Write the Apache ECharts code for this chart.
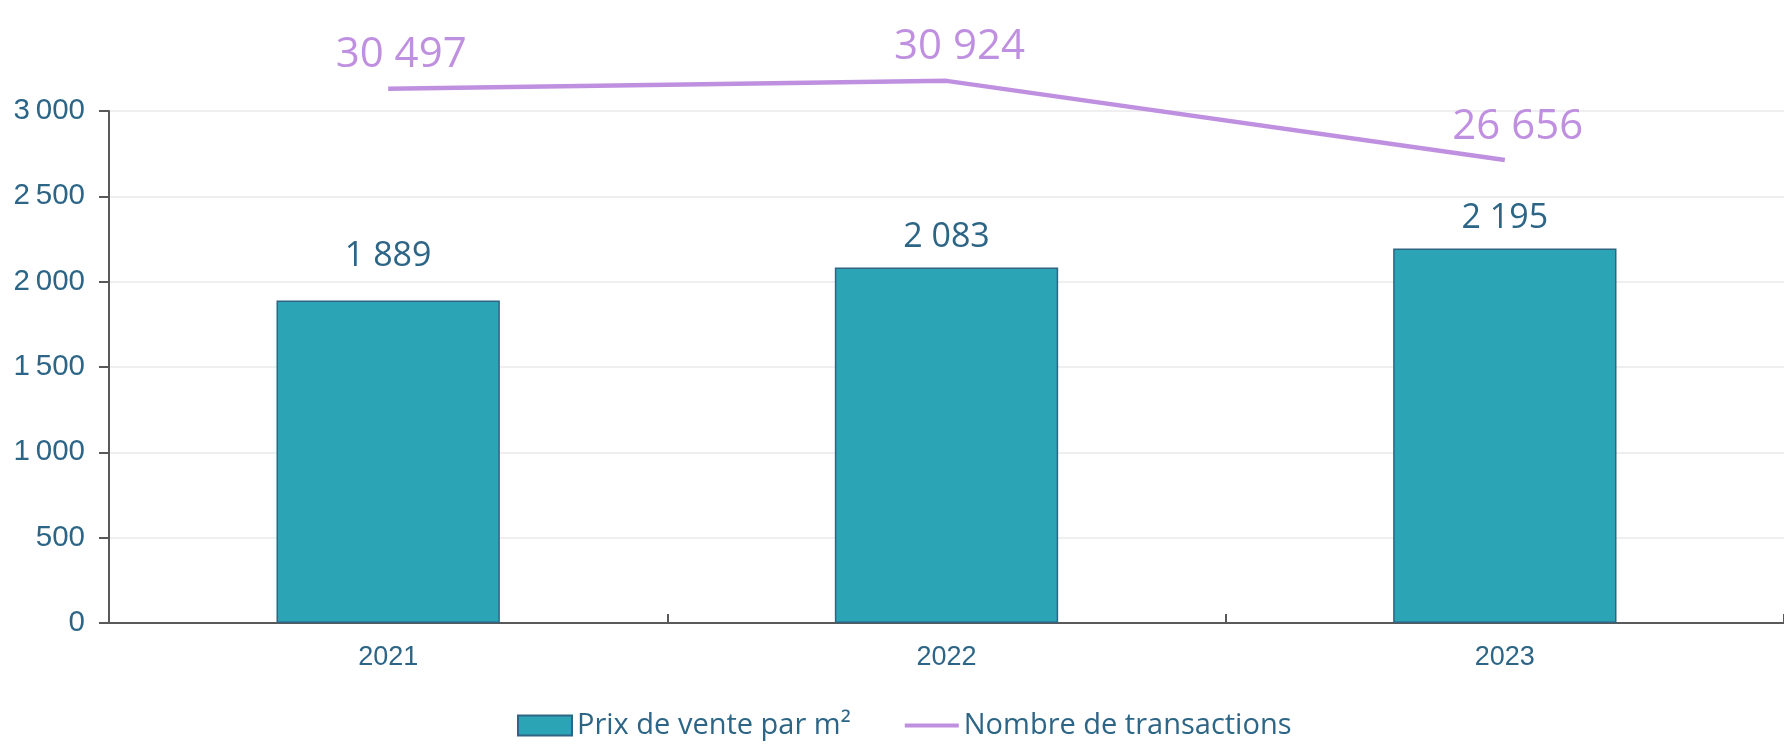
<!DOCTYPE html>
<html>
<head>
<meta charset="utf-8">
<script src="https://cdn.jsdelivr.net/npm/echarts@6/dist/echarts.min.js"></script>
<style>
html,body{margin:0;padding:0;background:#fff;}
#chart{width:1784px;height:744px;}
</style>
</head>
<body>
<div id="chart"></div>
<script>
const categories = ['2021', '2022', '2023'];
const prixM2 = [1889, 2083, 2195];
const transactions = [30497, 30924, 26656];
const seriesNames = ['Prix de vente par m²', 'Nombre de transactions'];
const yTicks = { min: 0, max: 3000, interval: 500 };

const fmt = (v, sep) => String(v).replace(/\B(?=(\d{3})+(?!\d))/g, sep);
const LINE_COLOR = '#C090E0';
const TEXT_COLOR = '#2D6586';

const chart = echarts.init(document.getElementById('chart'));
chart.setOption({
  animation: false,
  backgroundColor: '#ffffff',
  grid: { left: 109, top: 111, bottom: 121, width: 1685, containLabel: false },
  legend: {
    top: 706,
    left: 512,
    itemWidth: 54,
    itemHeight: 20,
    itemGap: 52,
    textStyle: { fontFamily: 'Open Sans', fontSize: 29, color: TEXT_COLOR, padding: [0, 0, 0, 0] },
    data: [
      { name: seriesNames[0], icon: 'rect' },
      {
        name: seriesNames[1],
        itemStyle: { color: 'rgba(0,0,0,0)', borderColor: 'rgba(0,0,0,0)', borderWidth: 0 },
        lineStyle: { color: LINE_COLOR, width: 4 }
      }
    ]
  },
  xAxis: {
    type: 'category',
    data: categories,
    boundaryGap: true,
    axisLine: { lineStyle: { color: '#595959', width: 2 } },
    axisTick: { show: true, inside: true, length: 9, lineStyle: { color: '#595959', width: 2 } },
    axisLabel: { fontFamily: 'Liberation Sans', fontSize: 27, color: TEXT_COLOR, margin: 21 },
    splitLine: { show: false }
  },
  yAxis: [
    {
      type: 'value',
      min: yTicks.min, max: yTicks.max, interval: yTicks.interval,
      axisLine: { show: true, lineStyle: { color: '#595959', width: 2 } },
      axisTick: { show: true, length: 10, lineStyle: { color: '#595959', width: 2 } },
      axisLabel: {
        fontFamily: 'Liberation Sans', fontSize: 29.5, color: TEXT_COLOR, margin: 24,
        formatter: v => fmt(v, '\u2009')
      },
      splitLine: { lineStyle: { color: '#EFEFEF', width: 2 } }
    },
    {
      type: 'value',
      show: false,
      min: 1700, max: 29300,
      splitLine: { show: false }
    }
  ],
  series: [
    {
      name: seriesNames[0],
      type: 'bar',
      data: prixM2.map((v, i) => i === 0 ? { value: v, label: { distance: 24 } } : v),
      barWidth: '40%',
      itemStyle: { color: '#2BA5B6', borderColor: '#2F6482', borderWidth: 1.5 },
      label: {
        show: true, position: 'top', distance: 10,
        fontFamily: 'Open Sans', fontSize: 34, lineHeight: 40, color: TEXT_COLOR,
        formatter: p => fmt(p.value, ' ')
      }
    },
    {
      name: seriesNames[1],
      type: 'line',
      yAxisIndex: 1,
      data: transactions,
      symbol: 'circle',
      symbolSize: 1,
      showSymbol: true,
      clip: false,
      lineStyle: { color: LINE_COLOR, width: 4.5 },
      itemStyle: { color: 'rgba(0,0,0,0)', borderWidth: 0 },
      label: {
        show: true, position: 'top', distance: 10, offset: [13, 0],
        fontFamily: 'Open Sans', fontSize: 42, lineHeight: 46, color: LINE_COLOR,
        formatter: p => fmt(p.value, ' ')
      }
    }
  ]
});
</script>
</body>
</html>
